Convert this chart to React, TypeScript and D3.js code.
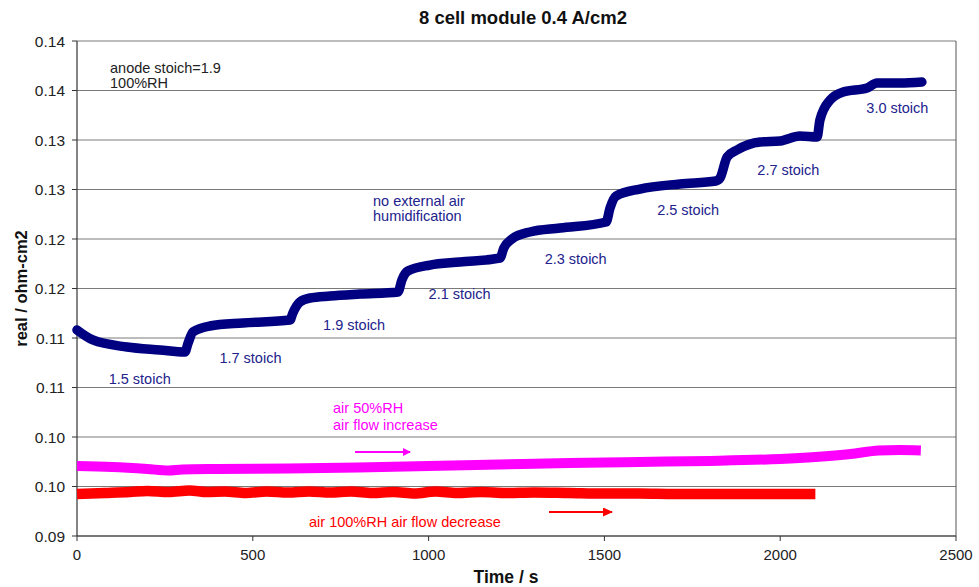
import React from "react";
import * as d3 from "d3";

// Time axis (s) and impedance real part (ohm-cm2) for the three runs
const blueTime = [0, 45, 142, 236, 307, 316, 330, 378, 472, 606, 614, 634, 663, 720, 805, 913, 924, 941, 1004, 1089, 1203, 1214, 1237, 1288, 1374, 1505, 1516, 1533, 1601, 1715, 1817, 1829, 1849, 1877, 1943, 2000, 2056, 2105, 2113, 2142, 2179, 2247, 2275, 2341, 2403];
const blueValue = [0.11081, 0.1098, 0.10909, 0.10879, 0.10859, 0.10949, 0.11061, 0.11121, 0.11152, 0.11182, 0.11253, 0.11364, 0.11404, 0.11424, 0.11444, 0.11465, 0.11586, 0.11677, 0.11737, 0.11768, 0.11808, 0.11909, 0.12, 0.12071, 0.12111, 0.12172, 0.12313, 0.12434, 0.12505, 0.12556, 0.12586, 0.12616, 0.12828, 0.12899, 0.1298, 0.1299, 0.1304, 0.1303, 0.13202, 0.13404, 0.13485, 0.13525, 0.13576, 0.13576, 0.13586];

const magentaTime = [0, 100, 200, 260, 300, 400, 600, 800, 1000, 1200, 1400, 1600, 1800, 2000, 2100, 2200, 2280, 2340, 2400];
const magentaValue = [0.09707, 0.09697, 0.09677, 0.09662, 0.09672, 0.09677, 0.09682, 0.09692, 0.09707, 0.09722, 0.09737, 0.09748, 0.09758, 0.09778, 0.09798, 0.09828, 0.09864, 0.09869, 0.09864];

const redTime = [0, 80, 150, 200, 260, 320, 370, 420, 480, 540, 600, 660, 720, 780, 840, 900, 960, 1020, 1080, 1150, 1220, 1300, 1400, 1500, 1600, 1700, 1800, 1900, 2000, 2100];
const redValue = [0.09424, 0.09434, 0.09444, 0.09455, 0.09444, 0.0946, 0.09444, 0.0945, 0.09434, 0.0945, 0.09439, 0.0945, 0.09439, 0.09449, 0.09434, 0.09444, 0.09429, 0.09449, 0.09434, 0.09444, 0.09434, 0.09439, 0.09434, 0.09429, 0.09429, 0.09424, 0.09424, 0.09424, 0.09424, 0.09424];

const xTicks = [0, 500, 1000, 1500, 2000, 2500];
const yTicks = [0.09, 0.095, 0.1, 0.105, 0.11, 0.115, 0.12, 0.125, 0.13, 0.135, 0.14];

const stoichLabels = ["1.5 stoich", "1.7 stoich", "1.9 stoich", "2.1 stoich", "2.3 stoich", "2.5 stoich", "2.7 stoich", "3.0 stoich"];
const stoichTime = [90, 405, 700, 1000, 1330, 1650, 1935, 2245];
const stoichValue = [0.10535, 0.1075, 0.1108, 0.11395, 0.11745, 0.12245, 0.12648, 0.13275];

const FONT = "'Liberation Sans', Arial, sans-serif";
const BLUE = "#000080";
const BLUE_TEXT = "#22228c";
const NOTE = 14.5;

const margin = { left: 77, right: 23, top: 41, bottom: 51 };
const W = 979;
const H = 587;

export default function App() {
  const x = d3.scaleLinear().domain([0, 2500]).range([margin.left, W - margin.right]);
  const y = d3.scaleLinear().domain([0.09, 0.14]).range([H - margin.bottom, margin.top]);

  const mk = (ts: number[], vs: number[]) =>
    d3
      .line<number>()
      .x((_, i) => x(ts[i]))
      .y((v) => y(v))
      .curve(d3.curveMonotoneX)(vs) as string;

  const fmtY = (v: number) => (Math.round(v * 100 + 1e-9) / 100).toFixed(2);

  const x0 = x(0);
  const x1 = x(2500);
  const yB = y(0.09);
  const yT = y(0.14);

  return (
    <svg width={W} height={H} style={{ position: "absolute", left: 0, top: 0, background: "#fff" }} fontFamily={FONT}>
      <defs>
        <marker id="ahM" markerWidth="8" markerHeight="8" refX="7" refY="4" orient="auto" markerUnits="userSpaceOnUse">
          <path d="M0,0 L8,4 L0,8 Z" fill="#ff00ff" />
        </marker>
        <marker id="ahR" markerWidth="10" markerHeight="9" refX="9" refY="4.5" orient="auto" markerUnits="userSpaceOnUse">
          <path d="M0,0 L10,4.5 L0,9 Z" fill="#ff0000" />
        </marker>
      </defs>
      <rect width={W} height={H} fill="#fff" />

      {/* gridlines */}
      {yTicks.map((t) => (
        <line key={"g" + t} x1={x0} x2={x1} y1={y(t)} y2={y(t)} stroke="#7a7a7a" strokeWidth={1} />
      ))}
      {/* frame */}
      <line x1={x1} x2={x1} y1={yT} y2={yB} stroke="#555" strokeWidth={1} />
      <line x1={x0} x2={x0} y1={yT} y2={yB} stroke="#333" strokeWidth={1.2} />
      <line x1={x0} x2={x1} y1={yB} y2={yB} stroke="#333" strokeWidth={1.2} />

      {/* ticks and tick labels */}
      {yTicks.map((t) => (
        <g key={"y" + t}>
          <line x1={x0 - 5} x2={x0} y1={y(t)} y2={y(t)} stroke="#333" />
          <text x={x0 - 12} y={y(t) + 5.5} textAnchor="end" fontSize={15.5} fill="#222">
            {fmtY(t)}
          </text>
        </g>
      ))}
      {xTicks.map((t) => (
        <g key={"x" + t}>
          <line x1={x(t)} x2={x(t)} y1={yB} y2={yB + 5} stroke="#333" />
          <text x={x(t)} y={yB + 24} textAnchor="middle" fontSize={15} fill="#222">
            {t}
          </text>
        </g>
      ))}

      {/* series */}
      <path d={mk(redTime, redValue)} fill="none" stroke="#ff0000" strokeWidth={10.5} strokeLinejoin="round" />
      <path d={mk(magentaTime, magentaValue)} fill="none" stroke="#ff00ff" strokeWidth={10} strokeLinejoin="round" />
      <path d={mk(blueTime, blueValue)} fill="none" stroke={BLUE} strokeWidth={9.5} strokeLinejoin="round" strokeLinecap="round" />

      {/* annotations */}
      <text x={110} y={73} fontSize={NOTE} fill="#222">anode stoich=1.9</text>
      <text x={110} y={88} fontSize={NOTE} fill="#222">100%RH</text>

      {stoichLabels.map((s, i) => (
        <text key={s} x={x(stoichTime[i])} y={y(stoichValue[i])} fontSize={NOTE} fill={BLUE_TEXT}>
          {s}
        </text>
      ))}
      <text x={373} y={206} fontSize={NOTE} fill={BLUE_TEXT}>no external air</text>
      <text x={373} y={221} fontSize={NOTE} fill={BLUE_TEXT}>humidification</text>

      <text x={333} y={413} fontSize={NOTE} fill="#ff00ff">air 50%RH</text>
      <text x={333} y={430} fontSize={NOTE} fill="#ff00ff">air flow increase</text>
      <line x1={355} x2={410} y1={452} y2={452} stroke="#ff00ff" strokeWidth={2} markerEnd="url(#ahM)" />

      <text x={309} y={527} fontSize={NOTE} fill="#ff0000">air 100%RH air flow decrease</text>
      <line x1={549} x2={612} y1={512} y2={512} stroke="#ff0000" strokeWidth={2} markerEnd="url(#ahR)" />

      {/* titles */}
      <text x={523} y={24} textAnchor="middle" fontSize={18.5} fontWeight="bold" fill="#111">
        8 cell module 0.4 A/cm2
      </text>
      <text x={506} y={583} textAnchor="middle" fontSize={17.5} fontWeight="bold" fill="#111">
        Time / s
      </text>
      <text transform={`translate(27, ${(yT + yB) / 2}) rotate(-90)`} textAnchor="middle" fontSize={16.5} fontWeight="bold" fill="#111">
        real  / ohm-cm2
      </text>
    </svg>
  );
}
